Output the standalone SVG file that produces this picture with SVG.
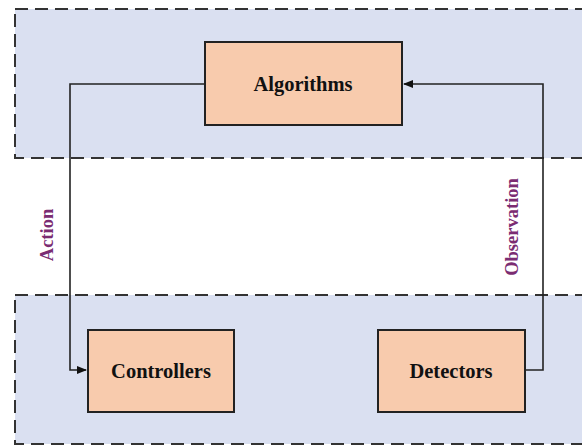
<svg xmlns="http://www.w3.org/2000/svg" width="582" height="446" viewBox="0 0 582 446">
<style>
.region{fill:#dae0f1;stroke:#333;stroke-width:2;stroke-dasharray:13 7}
.box{fill:#f8cbad;stroke:#222;stroke-width:2}
.lbl{font-family:"Liberation Serif",serif;font-weight:bold;font-size:20.5px;fill:#111;text-anchor:middle;dominant-baseline:central}
.edge{font-family:"Liberation Serif",serif;font-weight:bold;font-size:18.5px;fill:#7b2c72;text-anchor:middle;dominant-baseline:central}
.conn{fill:none;stroke:#222;stroke-width:1.6}
</style>
<defs>
<marker id="arr" markerWidth="10" markerHeight="8" refX="9" refY="4" orient="auto" markerUnits="userSpaceOnUse">
<path d="M0,0 L10,4 L0,8 z" fill="#111"/>
</marker>
</defs>
<rect width="582" height="446" fill="#fff"/>
<g id="region-top"><rect class="region" x="15" y="9" width="580" height="149"/></g>
<g id="region-bottom"><rect class="region" x="15" y="295" width="580" height="149"/></g>
<g id="connectors">
<polyline class="conn" points="205,84 70,84 70,370 86,370" marker-end="url(#arr)"/>
<polyline class="conn" points="525,370 543,370 543,84 404,84" marker-end="url(#arr)"/>
<text class="edge" transform="translate(47,235) rotate(-90)">Action</text>
<text class="edge" transform="translate(512,227) rotate(-90)">Observation</text>
</g>
<g id="algorithms"><rect class="box" x="205" y="42" width="197" height="83"/><text class="lbl" x="303" y="84">Algorithms</text></g>
<g id="controllers"><rect class="box" x="88" y="330" width="146" height="82"/><text class="lbl" x="161" y="371">Controllers</text></g>
<g id="detectors"><rect class="box" x="378" y="330" width="147" height="82"/><text class="lbl" x="451" y="371">Detectors</text></g>
</svg>
